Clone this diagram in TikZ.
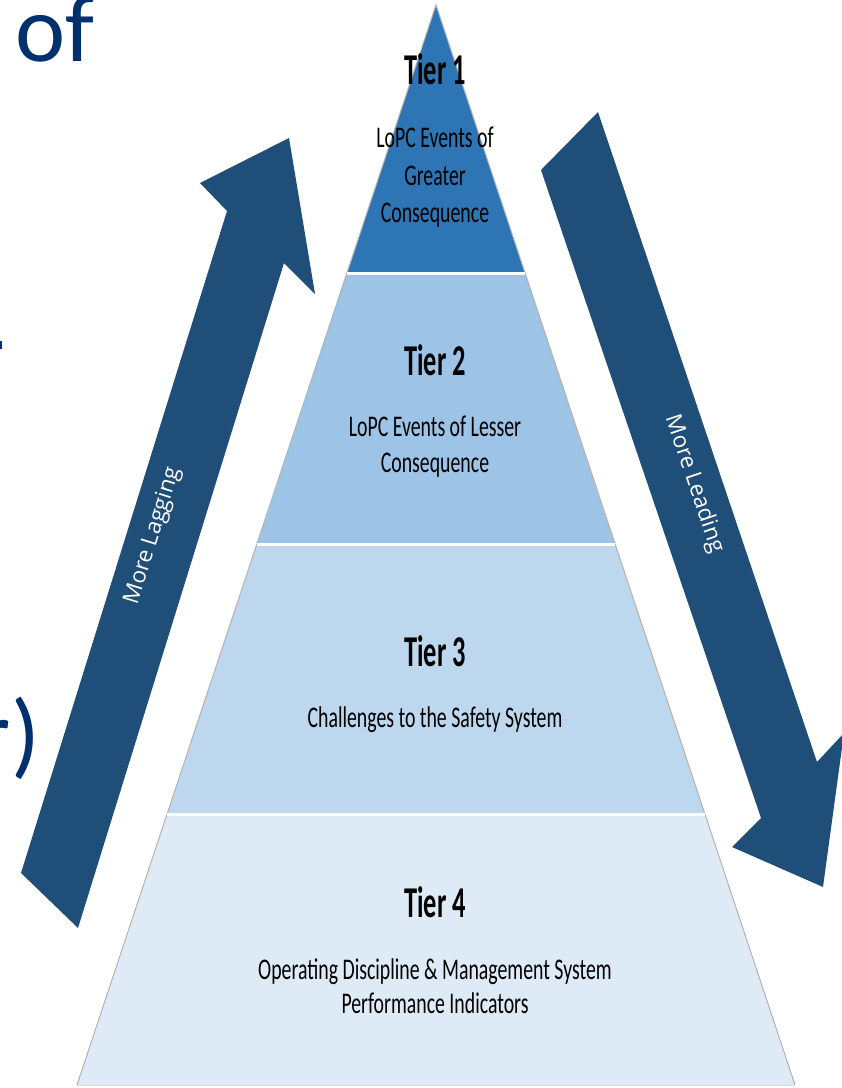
\documentclass[tikz,border=0pt]{standalone}
\usepackage{fontspec}
\setmainfont{Carlito}
\newfontfamily\tiertext[FakeStretch=0.66]{Carlito}
\newfontfamily\tiertitle[FakeStretch=0.6]{Carlito}
\newfontfamily\arrowfont{Open Sans}
\definecolor{tierone}{HTML}{2E75B6}
\definecolor{tiertwo}{HTML}{9DC3E6}
\definecolor{tierthree}{HTML}{BDD7EE}
\definecolor{tierfour}{HTML}{DEEBF7}
\definecolor{arrowblue}{HTML}{1F4E79}
\definecolor{navy}{HTML}{00306E}
\begin{document}
\begin{tikzpicture}[x=1pt,y=-1pt,
  titletext/.style={anchor=base,inner sep=0pt,text=black,
    font=\tiertitle\bfseries\fontsize{44}{44}\selectfont},
  bodytext/.style={anchor=base,inner sep=0pt,text=black,
    font=\tiertext\fontsize{30}{30}\selectfont},
  arrowlabel/.style={inner sep=0pt,text=white,
    font=\arrowfont\fontsize{22.5}{22.5}\selectfont},
  bigtext/.style={inner sep=0pt,text=navy,
    font=\fontsize{95}{95}\selectfont},
  separator/.style={white,line width=3pt},
  rim/.style={black!30,line width=1pt}]
\useasboundingbox (0,0) rectangle (842,1088);
\clip (0,0) rectangle (842,1088);

% pyramid corners
\coordinate (apex) at (436,5);
\coordinate (l1) at (347,273.5);  \coordinate (r1) at (525,273.5);
\coordinate (l2) at (257,544.5);  \coordinate (r2) at (615,544.5);
\coordinate (l3) at (167,814.5);  \coordinate (r3) at (705,814.5);
\coordinate (l4) at (77,1085);    \coordinate (r4) at (795,1085);

% tiers
\fill[tierone]   (apex) -- (r1) -- (l1) -- cycle;
\fill[tiertwo]   (l1) -- (r1) -- (r2) -- (l2) -- cycle;
\fill[tierthree] (l2) -- (r2) -- (r3) -- (l3) -- cycle;
\fill[tierfour]  (l3) -- (r3) -- (r4) -- (l4) -- cycle;
\draw[rim] (l4) -- (apex) -- (r4);
\draw[separator] (l1) -- (r1);
\draw[separator] (l2) -- (r2);
\draw[separator] (l3) -- (r3);
\draw[black!15,line width=1pt] (l4) -- (r4);

% left block arrow, pointing up
\fill[arrowblue] (289,138) -- (315,294) -- (284,263) -- (78,928)
  -- (21,873) -- (227,211) -- (200,183) -- cycle;
% right block arrow, pointing down
\fill[arrowblue] (541,170) -- (598,112) -- (817,762) -- (844,733)
  -- (823,887) -- (732,847) -- (761,818) -- cycle;

\node[arrowlabel,rotate=72.7] (lagging) at (153,536) {More Lagging};
\node[arrowlabel,rotate=-71.3] (leading) at (694,484) {More Leading};

% tier texts
\node[titletext] (t1) at (435,84) {Tier 1};
\node[bodytext] (t1a) at (435,147) {LoPC Events of};
\node[bodytext] (t1b) at (435,185) {Greater};
\node[bodytext] (t1c) at (435,222) {Consequence};

\node[titletext] (t2) at (435,375) {Tier 2};
\node[bodytext] (t2a) at (435,436) {LoPC Events of Lesser};
\node[bodytext] (t2b) at (435,472) {Consequence};

\node[titletext] (t3) at (435,666) {Tier 3};
\node[bodytext] (t3a) at (435,727) {Challenges to the Safety System};

\node[titletext] (t4) at (435,917) {Tier 4};
\node[bodytext] (t4a) at (435,979) {Operating Discipline \& Management System};
\node[bodytext] (t4b) at (435,1013) {Performance Indicators};

% fragments of the slide title at the left edge
\node[bigtext,anchor=base west] (of) at (15,61) {of};
\node[bigtext,anchor=base east] (paren) at (40,766) {r)};
\fill[navy] (0,341) rectangle (2,349);
\end{tikzpicture}
\end{document}
